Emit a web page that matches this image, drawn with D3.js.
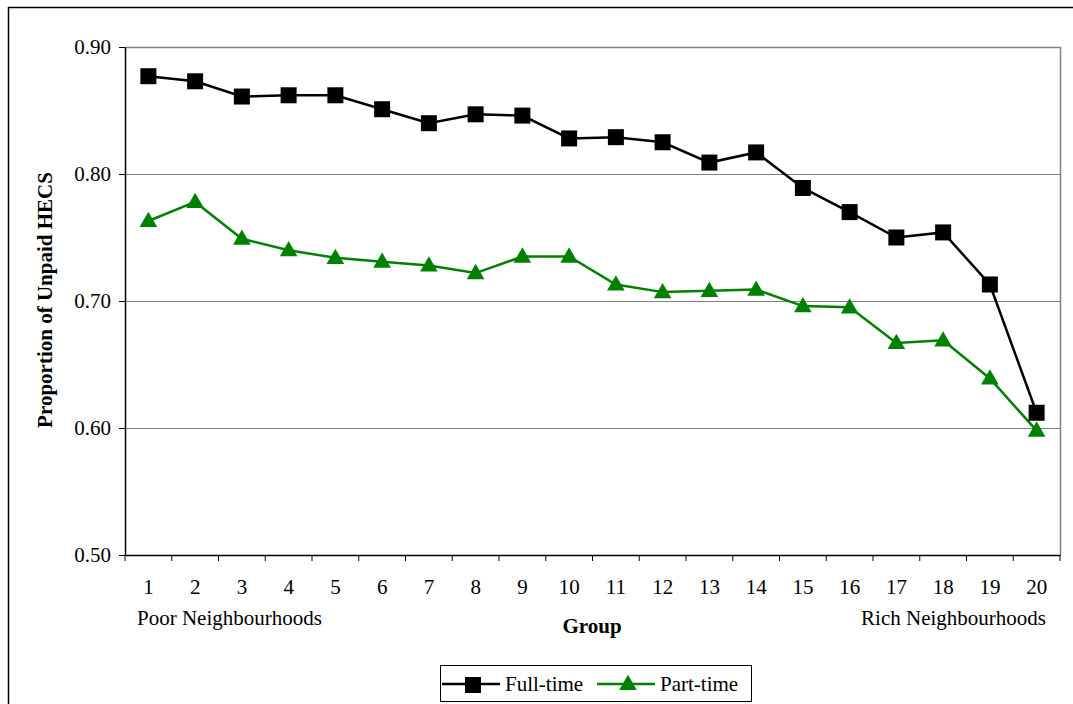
<!DOCTYPE html>
<html>
<head>
<meta charset="utf-8">
<script src="https://cdn.jsdelivr.net/npm/d3@7"></script>
<style>
body{margin:0;background:#fff;}
svg{display:block;font-family:"Liberation Serif","Times New Roman",serif;}
</style>
</head>
<body>
<svg id="chart" width="1073" height="704"></svg>
<script>
const groups = ["1","2","3","4","5","6","7","8","9","10","11","12","13","14","15","16","17","18","19","20"];
const fullTime = [0.877,0.873,0.861,0.862,0.862,0.851,0.840,0.847,0.846,0.828,0.829,0.825,0.809,0.817,0.789,0.770,0.750,0.754,0.713,0.612];
const partTime = [0.763,0.778,0.749,0.740,0.734,0.731,0.728,0.722,0.735,0.735,0.713,0.707,0.708,0.709,0.696,0.695,0.667,0.669,0.639,0.598];
const yTicks = [0.50,0.60,0.70,0.80,0.90];
const seriesNames = ["Full-time","Part-time"];
const seriesColors = ["#000000","#008000"];

const FS = 21;
const svg = d3.select("#chart");
const L = 125, R = 1060, T = 47, B = 555;

// outer frame
svg.append("line").attr("x1",8).attr("x2",1073).attr("y1",7.5).attr("y2",7.5).attr("stroke","#000").attr("stroke-width",1.5);
svg.append("line").attr("x1",8.5).attr("x2",8.5).attr("y1",7).attr("y2",704).attr("stroke","#000").attr("stroke-width",1.5);

const x = d3.scaleBand().domain(groups).range([L,R]);
const y = d3.scaleLinear().domain([0.5,0.9]).range([B,T]);

// gridlines
svg.append("g").selectAll("line").data(yTicks.filter(d=>d>0.5 && d<0.9)).join("line")
  .attr("x1",L).attr("x2",R).attr("y1",d=>Math.round(y(d))+0.5).attr("y2",d=>Math.round(y(d))+0.5)
  .attr("stroke","#808080").attr("stroke-width",1.2);
// plot border (top/right gray)
svg.append("path").attr("d",`M${L},${T+0.5}H${R+0.5}V${B}`).attr("fill","none").attr("stroke","#808080").attr("stroke-width",1.5);

// y axis
const yAxis = d3.axisLeft(y).tickValues(yTicks).tickFormat(d3.format(".2f")).tickSize(6).tickSizeOuter(0);
const gy = svg.append("g").attr("transform",`translate(${L},0)`).call(yAxis);
gy.attr("font-size",null).attr("font-family",null);
gy.select(".domain").attr("stroke","#000").attr("stroke-width",1.5);
gy.selectAll(".tick line").attr("stroke","#000");
gy.selectAll("text").style("font-size",FS+"px").style("font-family","Liberation Serif").attr("fill","#000").attr("x",-14);

// x axis
const xAxis = d3.axisBottom(x).tickSize(6).tickSizeOuter(0);
const gx = svg.append("g").attr("transform",`translate(0,${B})`).call(xAxis);
gx.attr("font-size",null).attr("font-family",null);
gx.select(".domain").attr("stroke","#000").attr("stroke-width",1.5);
gx.selectAll(".tick line").attr("transform",`translate(${-x.bandwidth()/2},0)`).attr("stroke","#000");
gx.append("line").attr("x1",R).attr("x2",R).attr("y1",0).attr("y2",6).attr("stroke","#000");
gx.selectAll("text").style("font-size",FS+"px").style("font-family","Liberation Serif").attr("fill","#000").attr("y",24).attr("dy","0.71em");

// axis titles
svg.append("text").attr("transform","translate(52,300) rotate(-90)").attr("text-anchor","middle")
  .style("font-size",FS+"px").attr("font-weight","bold").text("Proportion of Unpaid HECS");
svg.append("text").attr("x",592).attr("y",633).attr("text-anchor","middle")
  .style("font-size",FS+"px").attr("font-weight","bold").text("Group");
svg.append("text").attr("x",137).attr("y",625).style("font-size",FS+"px").text("Poor Neighbourhoods");
svg.append("text").attr("x",1046).attr("y",625).attr("text-anchor","end").style("font-size",FS+"px").text("Rich Neighbourhoods");

const cx = d => x(d) + x.bandwidth()/2;
const line = d3.line().x(d=>cx(d.g)).y(d=>y(d.v));
const fData = groups.map((g,i)=>({g,v:fullTime[i]}));
const pData = groups.map((g,i)=>({g,v:partTime[i]}));

svg.append("path").datum(fData).attr("d",line).attr("fill","none").attr("stroke",seriesColors[0]).attr("stroke-width",2.5);
svg.append("path").datum(pData).attr("d",line).attr("fill","none").attr("stroke",seriesColors[1]).attr("stroke-width",2.5);

const sq = d3.symbol().type(d3.symbolSquare).size(256);
const tri = d3.symbol().type(d3.symbolTriangle).size(135);
svg.append("g").selectAll("path").data(fData).join("path")
  .attr("d",sq).attr("transform",d=>`translate(${cx(d.g)},${y(d.v)})`).attr("fill",seriesColors[0]);
svg.append("g").selectAll("path").data(pData).join("path")
  .attr("d",tri).attr("transform",d=>`translate(${cx(d.g)},${y(d.v)+1})`).attr("fill",seriesColors[1]);

// legend
const lg = svg.append("g");
lg.append("rect").attr("x",440.5).attr("y",665.5).attr("width",311).attr("height",36).attr("fill","#fff").attr("stroke","#000").attr("stroke-width",1);
const items = [{x:442, name:seriesNames[0], color:seriesColors[0], sym:sq},{x:597, name:seriesNames[1], color:seriesColors[1], sym:tri}];
items.forEach(it=>{
  lg.append("line").attr("x1",it.x).attr("x2",it.x+58).attr("y1",684).attr("y2",684).attr("stroke",it.color).attr("stroke-width",2.5);
  lg.append("path").attr("d",it.sym).attr("transform",`translate(${it.x+31},685)`).attr("fill",it.color);
  lg.append("text").attr("x",it.x+63).attr("y",691).style("font-size",FS+"px").text(it.name);
});
</script>
</body>
</html>
